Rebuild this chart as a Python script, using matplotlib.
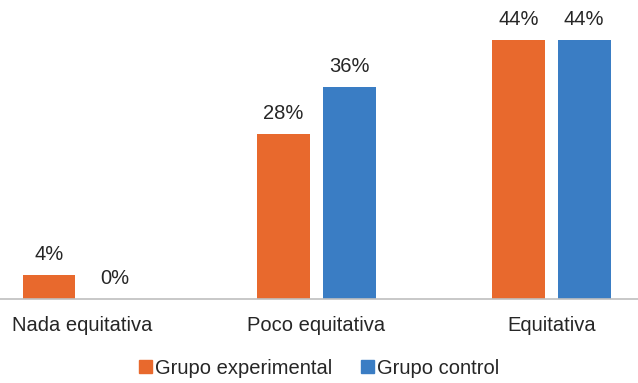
import numpy as np
import matplotlib.pyplot as plt
from matplotlib.patches import Patch

categorias = ["Nada equitativa", "Poco equitativa", "Equitativa"]
experimental = [4, 28, 44]
control = [0, 36, 44]
series = ["Grupo experimental", "Grupo control"]

naranja = "#E8692D"
azul = "#3A7DC4"

plt.rcParams["font.family"] = ["Liberation Sans", "DejaVu Sans"]

fig = plt.figure(figsize=(6.38, 3.83), dpi=100)
ax = fig.add_axes([0, 1 - 299 / 383, 1, 299 / 383])

x = np.arange(len(categorias))
ancho = 0.224
hueco = 0.056
off = (ancho + hueco) / 2

b1 = ax.bar(x - off, experimental, ancho, color=naranja)
b2 = ax.bar(x + off, control, ancho, color=azul)

for barras, valores in ((b1, experimental), (b2, control)):
    for b, v in zip(barras, valores):
        ax.annotate(f"{v}%", (b.get_x() + b.get_width() / 2, v),
                    xytext=(0, 8), textcoords="offset points",
                    ha="center", va="bottom", fontsize=14.5, color="#262626")

ax.set_xlim(-0.348, 2.369)
ax.set_ylim(0, 50.8)
ax.set_yticks([])
ax.set_xticks(x)
ax.set_xticklabels(categorias, fontsize=14.5, color="#262626")
ax.tick_params(axis="x", length=0, pad=12)
for s in ("top", "right", "left"):
    ax.spines[s].set_visible(False)
ax.spines["bottom"].set_color("#BFBFBF")
ax.spines["bottom"].set_linewidth(1.2)
ax.patch.set_alpha(0)

handles = [Patch(color=naranja), Patch(color=azul)]
fig.legend(handles, series, loc="center", bbox_to_anchor=(319 / 638, 1 - 368 / 383),
           ncol=2, frameon=False, fontsize=14.5, handlelength=0.65, handleheight=0.65,
           handletextpad=0.15, columnspacing=1.4, labelcolor="#262626")

fig.savefig("out.png", dpi=100)
